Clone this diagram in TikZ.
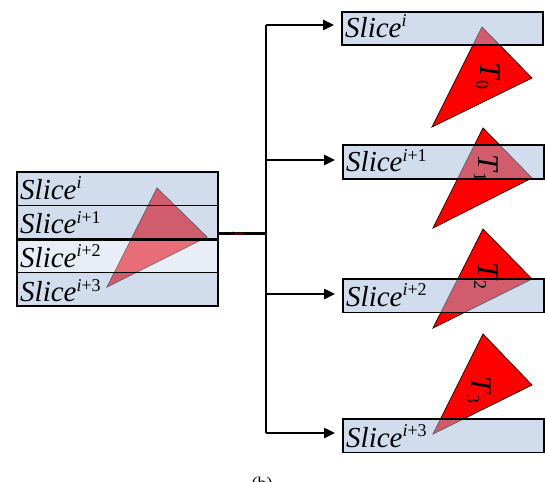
\documentclass[tikz,border=0pt]{standalone}
\usepackage{fontspec}
\setmainfont{Liberation Serif}
\usetikzlibrary{arrows.meta,calc}
\definecolor{boxblue}{RGB}{163,185,217}
\definecolor{boxlight}{RGB}{209,219,237}
\newcommand{\slc}[1]{\fontsize{29}{29}\selectfont\textit{Slice}\raisebox{10.5pt}{\fontsize{18}{18}\selectfont\textit{i}#1}}
\newcommand{\tlab}[1]{\fontsize{30}{30}\selectfont\textit{T}\raisebox{-4pt}{\fontsize{18}{18}\selectfont #1}}
\tikzset{
  slicebox/.style={draw=black, line width=1.6pt, fill=boxblue, fill opacity=0.5, text opacity=1,
    minimum width=201pt, minimum height=33.5pt, inner sep=0pt, anchor=north west},
  slicetext/.style={anchor=base west, inner sep=0pt},
  tri/.style={draw=black!80!red, line width=0.8pt, fill=red},
  conn/.style={line width=2.4pt, draw=black},
  arr/.style={conn, -{Triangle[length=11pt,width=10pt]}, shorten >=7pt},
  tnode/.style={rotate=-90, inner sep=0pt}
}
\begin{document}
\begin{tikzpicture}[x=1pt,y=-1pt]
\useasboundingbox (0,0) rectangle (545,481);
% triangles (drawn below boxes)
\draw[tri] (157,188) -- (207,237) -- (107,287) -- cycle;
\draw[tri] (482,27) -- (532,78) -- (432,127) -- cycle;
\draw[tri] (483,128) -- (532,178) -- (433,228) -- cycle;
\draw[tri] (483,229) -- (532,279) -- (433,328) -- cycle;
\draw[tri] (483,334) -- (532,385) -- (433,434) -- cycle;
% left stack
\node[slicebox] (L0) at (16,171) {};
\node[slicebox] (L1) at (16,204.5) {};
\node[slicebox, fill=boxlight] (L2) at (16,238) {};
\node[slicebox] (L3) at (16,271.5) {};
\draw[line width=2.4pt] (L1.south west) -- (L1.south east);
\node[slicetext] (l0t) at ($(L0.south west)+(4,-7)$) {\slc{}};
\node[slicetext] (l1t) at ($(L1.south west)+(4,-6)$) {\slc{+1}};
\node[slicetext] (l2t) at ($(L2.south west)+(4,-6)$) {\slc{+2}};
\node[slicetext] (l3t) at ($(L3.south west)+(4,-5)$) {\slc{+3}};
% right boxes
\node[slicebox] (R0) at (341,11) {};
\node[slicebox] (R1) at (342,144.5) {};
\node[slicebox] (R2) at (342,278) {};
\node[slicebox] (R3) at (342,418) {};
\node[slicetext] (r0t) at ($(R0.south west)+(4,-9)$) {\slc{}};
\node[slicetext] (r1t) at ($(R1.south west)+(4,-8)$) {\slc{+1}};
\node[slicetext] (r2t) at ($(R2.south west)+(4,-7)$) {\slc{+2}};
\node[slicetext] (r3t) at ($(R3.south west)+(4,-6)$) {\slc{+3}};
% triangle labels
\node[tnode] (t0) at (488,76) {\tlab{0}};
\node[tnode] (t1) at (486,168) {\tlab{1}};
\node[tnode] (t2) at (486,276) {\tlab{2}};
\node[tnode] (t3) at (479,390) {\tlab{3}};
% connectors
\coordinate (J) at (266,233.5);
\coordinate (S) at (L1.east |- J);
\coordinate (Ttop) at (266,25);
\coordinate (Tbot) at (266,433);
\draw[conn] (S) -- (J);
\node[text=red, inner sep=0pt, font=\fontsize{5}{5}\selectfont] (cr) at (238,234) {Create};
\draw[conn] (Ttop) -- (Tbot);
\draw[arr] (Ttop) -- (Ttop -| R0.west);
\draw[arr] (266,160) -- (266,160 -| R1.west);
\draw[arr] (266,294) -- (266,294 -| R2.west);
\draw[arr] (Tbot) -- (Tbot -| R3.west);
% caption (cut off at bottom, as in the reference)
\node[anchor=north, inner sep=0pt, font=\fontsize{18}{18}\selectfont] (cap) at (262,477) {(b)};
\end{tikzpicture}
\end{document}
